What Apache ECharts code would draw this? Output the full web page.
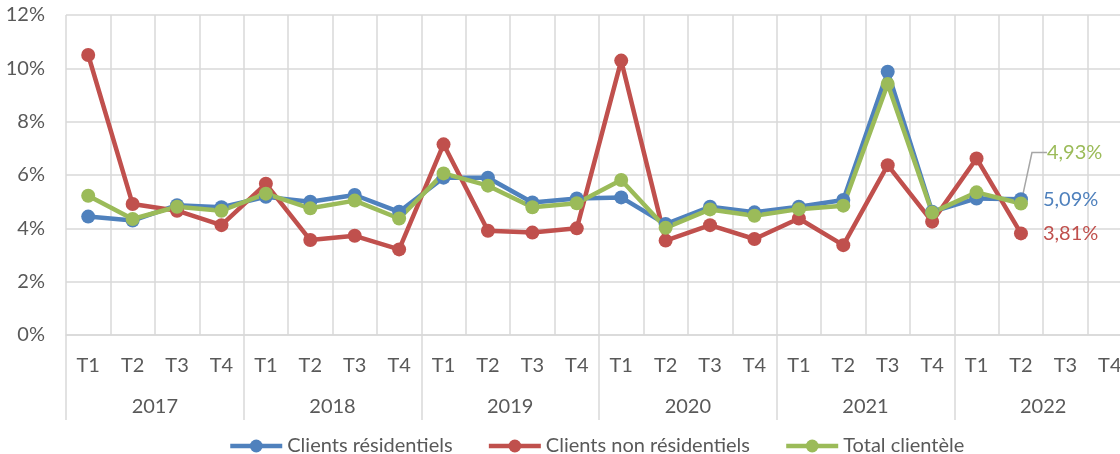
<!DOCTYPE html>
<html>
<head>
<meta charset="utf-8">
<script src="https://cdn.jsdelivr.net/npm/echarts@6/dist/echarts.min.js"></script>
<style>
  html, body { margin: 0; padding: 0; background: #fff; }
  #main { width: 1120px; height: 454px; }
</style>
</head>
<body>
<div id="main"></div>
<script>
  // libellés des axes
  var trimestres = ['T1','T2','T3','T4','T1','T2','T3','T4','T1','T2','T3','T4',
                    'T1','T2','T3','T4','T1','T2','T3','T4','T1','T2','T3','T4'];
  var annees = ['2017','2018','2019','2020','2021','2022'];
  var yTicks = [0, 2, 4, 6, 8, 10, 12];

  // valeurs en %
  var residentiels = [4.44, 4.29, 4.87, 4.79, 5.18, 5.0, 5.25, 4.62, 5.9, 5.9, 4.97, 5.12,
                      5.16, 4.16, 4.81, 4.6, 4.81, 5.06, 9.87, 4.62, 5.12, 5.09, null, null];
  var nonResidentiels = [10.5, 4.91, 4.66, 4.12, 5.67, 3.56, 3.72, 3.21, 7.15, 3.91, 3.84, 4.0,
                         10.29, 3.54, 4.12, 3.6, 4.37, 3.37, 6.37, 4.25, 6.62, 3.81, null, null];
  var total = [5.22, 4.35, 4.81, 4.66, 5.3, 4.75, 5.04, 4.37, 6.06, 5.6, 4.79, 4.94,
               5.81, 4.02, 4.71, 4.47, 4.72, 4.85, 9.41, 4.59, 5.35, 4.93, null, null];

  var police = 'Lato';
  var taille = 20;
  var gris = '#595959';
  var grille = '#D9D9D9';

  // étiquette seulement sur le dernier point renseigné
  function avecEtiquette(arr, couleur, extra) {
    var last = -1;
    arr.forEach(function (v, i) { if (v != null) last = i; });
    return arr.map(function (v, i) {
      if (i !== last) return v;
      var label = {
        show: true, position: 'right', distance: 15, color: couleur,
        fontFamily: police, fontSize: taille,
        formatter: function (p) { return p.value.toFixed(2).replace('.', ',') + '%'; }
      };
      if (extra) Object.assign(label, extra);
      return { value: v, label: label };
    });
  }

  function serie(nom, arr, couleur, extra) {
    return {
      name: nom,
      type: 'line',
      data: avecEtiquette(arr, couleur, extra),
      symbol: 'circle',
      symbolSize: 14,
      lineStyle: { width: 4.5, color: couleur },
      itemStyle: { color: couleur },
      animation: false
    };
  }

  var myChart = echarts.init(document.getElementById('main'));

  var serieTotal = serie('Total clientèle', total, '#9BBB59', { padding: [0, 0, 0, 6] });
  serieTotal.labelLayout = { dx: -2, dy: -51 };
  serieTotal.labelLine = { show: true, length2: 15, lineStyle: { color: '#A6A6A6', width: 1.5 } };

  var option = {
    textStyle: { fontFamily: police },
    grid: { left: 66, top: 15, width: 1066, bottom: 119, containLabel: false, outerBoundsMode: 'none' },
    legend: {
      top: 436,
      left: 228,
      padding: 0,
      itemWidth: 52,
      itemHeight: 16,
      itemGap: 34,
      lineStyle: { width: 4.5 },
      textStyle: { fontFamily: police, fontSize: taille, color: gris }
    },
    xAxis: [
      {
        type: 'category',
        data: trimestres,
        axisLine: { lineStyle: { color: grille, width: 1.5 } },
        axisTick: { show: false },
        axisLabel: { color: gris, fontFamily: police, fontSize: taille, margin: 21, interval: 0 },
        splitLine: { show: true, interval: 0, lineStyle: { color: grille, width: 1.5 } }
      },
      {
        type: 'category',
        data: annees,
        position: 'bottom',
        axisLine: { show: false },
        axisTick: { show: true, length: 85, interval: 0, lineStyle: { color: grille, width: 1.5 } },
        axisLabel: { color: gris, fontFamily: police, fontSize: taille, margin: 62, interval: 0 },
        splitLine: { show: false }
      }
    ],
    yAxis: {
      type: 'value',
      min: yTicks[0],
      max: yTicks[yTicks.length - 1],
      interval: 2,
      axisLine: { show: false },
      axisTick: { show: false },
      axisLabel: { color: gris, fontFamily: police, fontSize: taille, margin: 21, formatter: '{value}%' },
      splitLine: { lineStyle: { color: grille, width: 1.5 } }
    },
    series: [
      serie('Clients résidentiels', residentiels, '#4F81BD'),
      serie('Clients non résidentiels', nonResidentiels, '#C0504D'),
      serieTotal
    ]
  };

  myChart.setOption(option);
</script>
</body>
</html>
